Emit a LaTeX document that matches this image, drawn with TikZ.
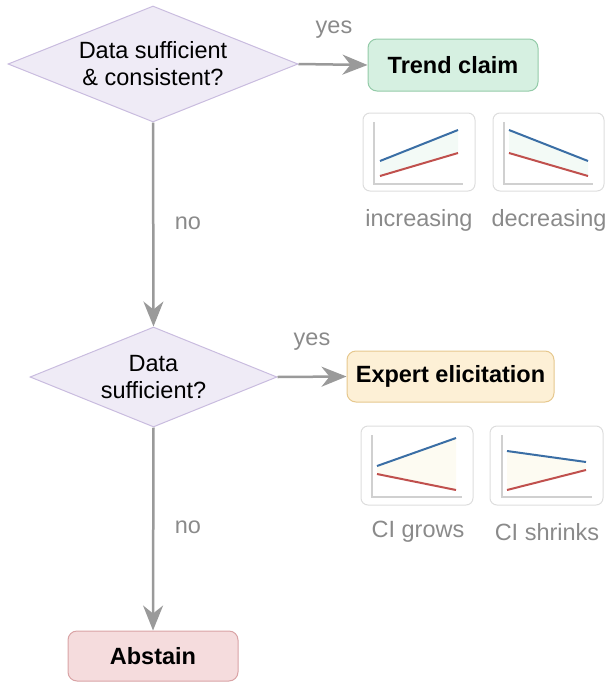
\documentclass[tikz,border=0pt]{standalone}
\usepackage{fontspec}
\setmainfont{Liberation Sans}
\usetikzlibrary{shapes.geometric,arrows.meta,positioning}
\definecolor{decfill}{HTML}{EFEBF6}
\definecolor{decline}{HTML}{C9BCDF}
\definecolor{trendfill}{HTML}{D6F0E1}
\definecolor{trendline}{HTML}{93CBA8}
\definecolor{expfill}{HTML}{FDF0D6}
\definecolor{expline}{HTML}{E6C88E}
\definecolor{absfill}{HTML}{F5DCDD}
\definecolor{absline}{HTML}{D9A3A5}
\definecolor{flowgray}{HTML}{9A9A9A}
\definecolor{labgray}{HTML}{8A8A8A}
\definecolor{chartline}{HTML}{DDDDDD}
\definecolor{axisgray}{HTML}{D0D0D0}
\definecolor{upper}{HTML}{3A6EA5}
\definecolor{lower}{HTML}{C0504D}
\definecolor{bandgreen}{HTML}{F3FAF6}
\definecolor{bandyellow}{HTML}{FDFBF2}
\tikzset{
  decision/.style={diamond, draw=decline, fill=decfill, line width=1pt, inner sep=0pt,
    align=center, font=\fontsize{23.5}{27}\selectfont},
  outcome/.style={rectangle, rounded corners=9pt, line width=1pt, inner sep=0pt,
    font=\fontsize{23.5}{27}\selectfont\bfseries},
  flow/.style={draw=flowgray, line width=2.5pt, -{Stealth[length=25pt,width=20pt,inset=8pt]}},
  branch/.style={text=labgray, font=\fontsize{23.5}{27}\selectfont},
  chartbox/.style={draw=chartline, line width=1pt, rounded corners=7pt},
  axis/.style={draw=axisgray, line width=1.5pt},
  caption/.style={text=labgray, font=\fontsize{23.5}{27}\selectfont}
}
\begin{document}
\begin{tikzpicture}[x=1pt,y=-1pt]
\useasboundingbox (0,0) rectangle (608,683);
% decisions and outcomes
\node[decision, minimum width=290pt, minimum height=116pt, aspect=2.5] (dec1) at (153,64) {Data sufficient\\\& consistent?};
\node[decision, minimum width=247pt, minimum height=100pt, aspect=2.47] (dec2) at (153.5,377) {Data\\sufficient?};
\node[outcome, draw=trendline, fill=trendfill, minimum width=170pt, minimum height=52pt] (trend) at (453,65) {Trend claim};
\node[outcome, draw=expline, fill=expfill, minimum width=207pt, minimum height=51pt] (expert) at (450.5,376.5) {Expert elicitation};
\node[outcome, draw=absline, fill=absfill, minimum width=170pt, minimum height=50pt] (abstain) at (153,656) {Abstain};
% connectors
\draw[flow] (dec1.east) -- (trend.west);
\draw[flow] (dec1.south) -- (dec2.north);
\draw[flow] (dec2.east) -- (expert.west);
\draw[flow] (dec2.south) -- (abstain.north);
\node[branch] (yes1) at (334,30) {yes};
\node[branch] (no1) at (188,223) {no};
\node[branch] (yes2) at (312,342) {yes};
\node[branch] (no2) at (188,527) {no};
% small charts
\node[chartbox, minimum width=112pt, minimum height=78pt] (inc) at (419,152) {};
\node[chartbox, minimum width=111pt, minimum height=78pt] (dec) at (548.5,152) {};
\node[chartbox, minimum width=112pt, minimum height=79pt] (grow) at (417,465.5) {};
\node[chartbox, minimum width=113pt, minimum height=79pt] (shrink) at (546.5,465.5) {};
\fill[bandgreen] (380,161) -- (458,130) -- (458,153) -- (380,176) -- cycle;
\draw[axis] (374,122) -- (374,184) -- (463,184);
\draw[upper, line width=2pt] (380,161) -- (458,130);
\draw[lower, line width=2pt] (380,176) -- (458,153);
\fill[bandgreen] (509,130) -- (588,161) -- (588,176) -- (509,153) -- cycle;
\draw[axis] (504,122) -- (504,184) -- (593,184);
\draw[upper, line width=2pt] (509,130) -- (588,161);
\draw[lower, line width=2pt] (509,153) -- (588,176);
\fill[bandyellow] (377,466) -- (456,438) -- (456,490) -- (377,474) -- cycle;
\draw[axis] (372,435) -- (372,497) -- (462,497);
\draw[upper, line width=2pt] (377,466) -- (456,438);
\draw[lower, line width=2pt] (377,474) -- (456,490);
\fill[bandyellow] (507,451) -- (586,462) -- (586,470) -- (507,490) -- cycle;
\draw[axis] (502,435) -- (502,497) -- (592,497);
\draw[upper, line width=2pt] (507,451) -- (586,462);
\draw[lower, line width=2pt] (507,490) -- (586,470);
\node[caption] (inclab) at (419,220) {increasing};
\node[caption] (declab) at (549,220) {decreasing};
\node[caption] (growlab) at (418,532) {CI grows};
\node[caption] (shrinklab) at (547,532) {CI shrinks};
\end{tikzpicture}
\end{document}
